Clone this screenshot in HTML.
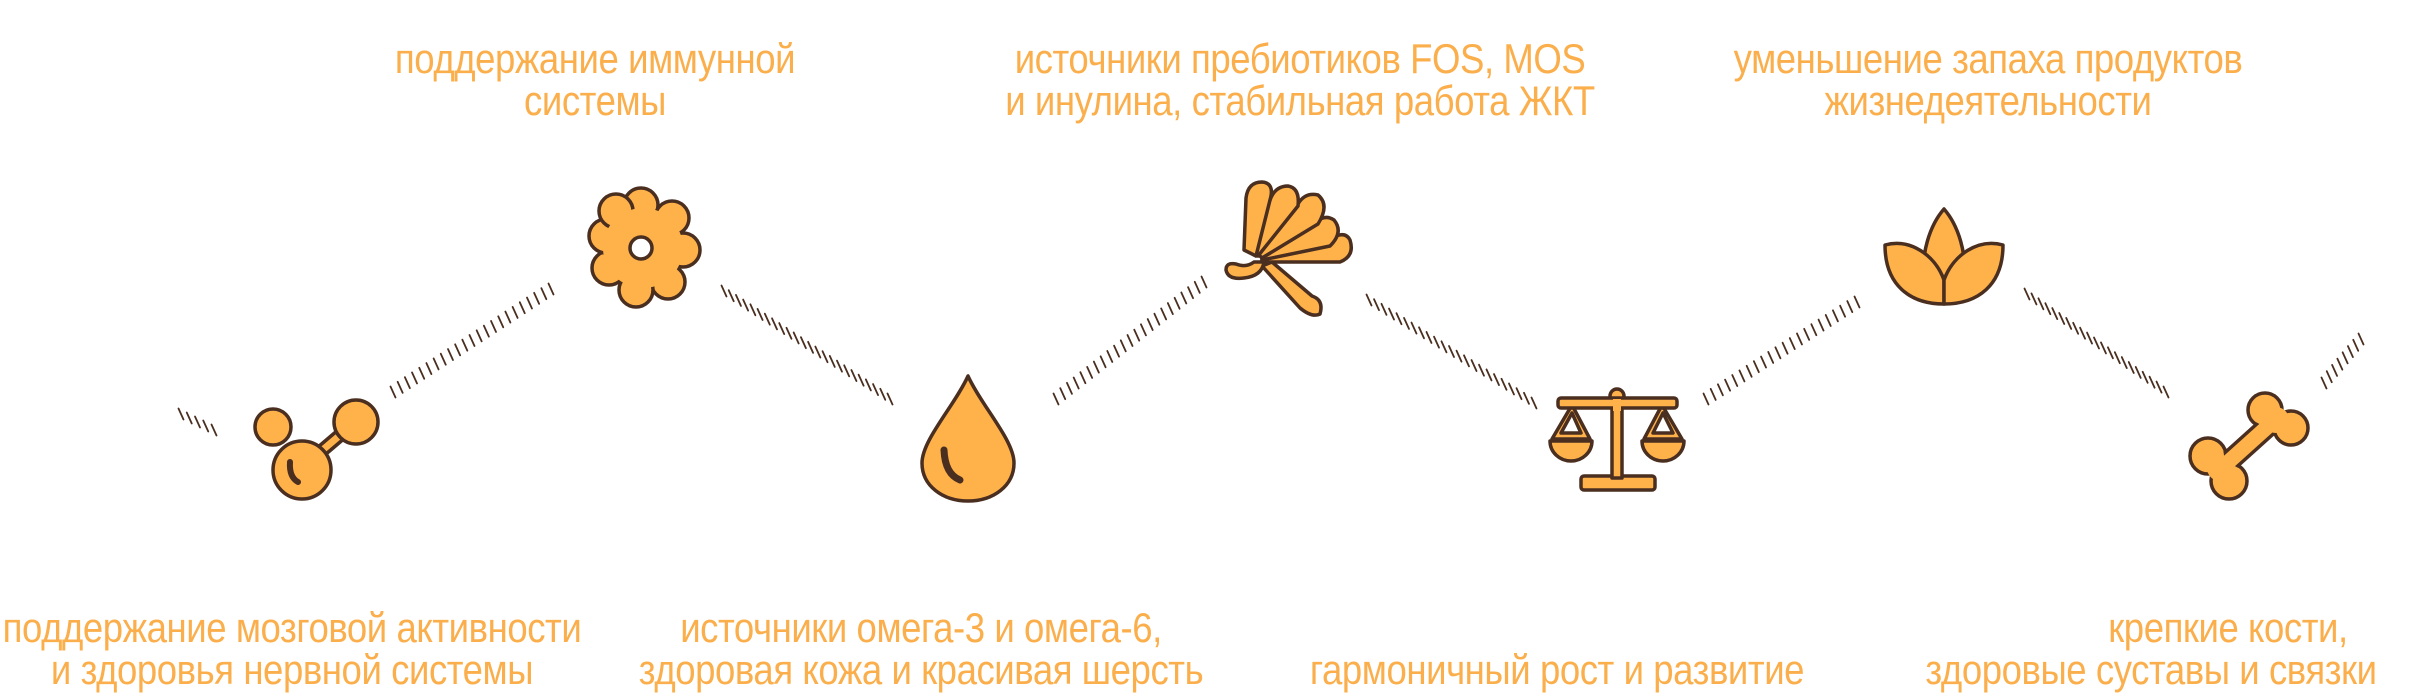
<!DOCTYPE html>
<html><head><meta charset="utf-8">
<style>
html,body{margin:0;padding:0;background:#fff;}
body{width:2414px;height:691px;position:relative;overflow:hidden;}
.t{position:absolute;font-family:"Liberation Sans","DejaVu Sans",sans-serif;color:#FBAF4C;font-size:42px;line-height:42px;white-space:nowrap;transform:scaleX(0.87);letter-spacing:-0.5px;}
.c{text-align:center;width:900px;}
svg{position:absolute;left:0;top:0;}
</style></head><body>
<svg width="2414" height="691" viewBox="0 0 2414 691">
<g id="ticks" stroke="#4a2e1f" stroke-width="1.8" stroke-linecap="round"></g>
<g fill="#FFB24A" stroke="#4a2e1f" stroke-width="3.5" stroke-linejoin="round" stroke-linecap="round">
<!-- molecule -->
<line x1="305" y1="465" x2="352" y2="425" stroke-width="14"/>
<line x1="305" y1="465" x2="352" y2="425" stroke="#FFB24A" stroke-width="7"/>
<circle cx="273" cy="427" r="18"/>
<circle cx="356" cy="422" r="22"/>
<circle cx="302" cy="470" r="29"/>
<path d="M290 462 Q289 477 298 482" fill="none" stroke-width="6"/>
<!-- flower -->
<g>
<circle cx="641" cy="205" r="17"/>
<circle cx="672" cy="218" r="17"/>
<circle cx="683" cy="250" r="17"/>
<circle cx="668" cy="282" r="17"/>
<circle cx="636" cy="290" r="17"/>
<circle cx="609" cy="268" r="17"/>
<circle cx="606" cy="236" r="17"/>
<circle cx="616" cy="211" r="17"/>
<circle cx="643" cy="248" r="40" stroke="none"/>
<circle cx="641" cy="248" r="11" fill="#fff"/>
</g>
<!-- drop -->
<path d="M968 376 C955 405 922 440 922 463 C922 486 943 501 968 501 C993 501 1014 486 1014 463 C1014 440 981 405 968 376 Z"/>
<path d="M944 450 Q945 474 960 480" fill="none" stroke-width="7"/>
<!-- fan -->
<g>
<path d="M1262 266 L1300 308 Q1312 318 1320 314 Q1324 300 1312 296 L1272 262 Z"/>
<path d="M1262 262 L1340 262 Q1355 256 1350 240 Q1346 232 1336 236 L1262 258 Z"/>
<path d="M1262 260 L1330 246 Q1344 232 1334 220 Q1325 214 1316 222 L1262 256 Z"/>
<path d="M1262 258 L1318 224 Q1330 205 1318 195 Q1305 192 1298 204 L1258 254 Z"/>
<path d="M1258 256 L1298 206 Q1300 188 1288 186 Q1275 186 1270 200 L1252 250 Z"/>
<path d="M1256 256 L1270 200 Q1275 183 1262 182 Q1248 182 1246 198 L1244 250 Z"/>
<path d="M1264 262 Q1262 276 1244 278 Q1228 280 1226 270 Q1226 262 1236 264 Q1246 268 1254 262 Z"/>
</g>
<!-- scales -->
<g>
<rect x="1581" y="476" width="74" height="14" rx="3"/>
<rect x="1612" y="400" width="10" height="78"/>
<path d="M1550 441 A21 20 0 0 0 1592 441 Z"/>
<path d="M1642 441 A21 20 0 0 0 1684 441 Z"/>
<path d="M1552 439 L1572 405 L1590 439 Z M1561 433 L1572 413 L1581 433 Z" fill-rule="evenodd"/>
<path d="M1644 439 L1662 405 L1682 439 Z M1653 433 L1663 413 L1673 433 Z" fill-rule="evenodd"/>
<circle cx="1617" cy="396" r="7"/>
<rect x="1558" y="398" width="119" height="10" rx="3"/>
<rect x="1613" y="399" width="8" height="12" stroke="none"/>
</g>
<!-- lotus -->
<g>
<path d="M1944 209 C1930 225 1920 255 1925 280 L1944 300 L1963 280 C1968 255 1958 225 1944 209 Z"/>
<path d="M1885 245 C1910 238 1935 255 1944 280 C1944 300 1944 304 1944 304 C1910 304 1885 285 1885 245 Z"/>
<path d="M2003 245 C1978 238 1953 255 1944 280 C1944 300 1944 304 1944 304 C1978 304 2003 285 2003 245 Z"/>
</g>
<!-- bone -->
<g>
<circle cx="2265" cy="410" r="17"/>
<circle cx="2291" cy="428" r="17"/>
<circle cx="2208" cy="456" r="18"/>
<circle cx="2229" cy="481" r="18"/>
<line x1="2225" y1="465" x2="2275" y2="420" stroke-width="22"/>
<line x1="2225" y1="465" x2="2275" y2="420" stroke="#FFB24A" stroke-width="15"/>
<circle cx="2265" cy="410" r="15" stroke="none"/>
<circle cx="2291" cy="428" r="15" stroke="none"/>
<circle cx="2208" cy="456" r="16" stroke="none"/>
<circle cx="2229" cy="481" r="16" stroke="none"/>
<circle cx="2276" cy="420" r="13" stroke="none"/>
<circle cx="2220" cy="468" r="13" stroke="none"/>
</g>
</g>
</svg>
<div class="t c" style="left:145px;top:38px;">поддержание иммунной<br>системы</div>
<div class="t c" style="left:850px;top:38px;">источники пребиотиков FOS, MOS<br>и инулина, стабильная работа ЖКТ</div>
<div class="t c" style="left:1538px;top:38px;">уменьшение запаха продуктов<br>жизнедеятельности</div>
<div class="t c" style="left:-158px;top:607px;">поддержание мозговой активности<br>и здоровья нервной системы</div>
<div class="t c" style="left:471px;top:607px;">источники омега-3 и омега-6,<br>здоровая кожа и красивая шерсть</div>
<div class="t c" style="left:1107px;top:649px;">гармоничный рост и развитие</div>
<div class="t c" style="left:1778px;top:607px;">крепкие кости,</div>
<div class="t c" style="left:1701px;top:649px;">здоровые суставы и связки</div>
<script>
var segs=[[181,414,214,430],[393,392,551,289],[724,291,890,399],[1056,399,1204,282],[1369,300,1534,403],[1706,399,1857,302],[2027,294,2166,392],[2324,383,2361,339]];
var g=document.getElementById('ticks'),ns='http://www.w3.org/2000/svg';
segs.forEach(function(s){
 var dx=s[2]-s[0],dy=s[3]-s[1],L=Math.sqrt(dx*dx+dy*dy),n=Math.round(L/8.7);
 for(var i=0;i<=n;i++){var x=s[0]+dx*i/n,y=s[1]+dy*i/n;
  var l=document.createElementNS(ns,'line');
  l.setAttribute('x1',x-2.5);l.setAttribute('y1',y-5.5);l.setAttribute('x2',x+2.5);l.setAttribute('y2',y+5.5);
  g.appendChild(l);}
});
</script>
</body></html>
